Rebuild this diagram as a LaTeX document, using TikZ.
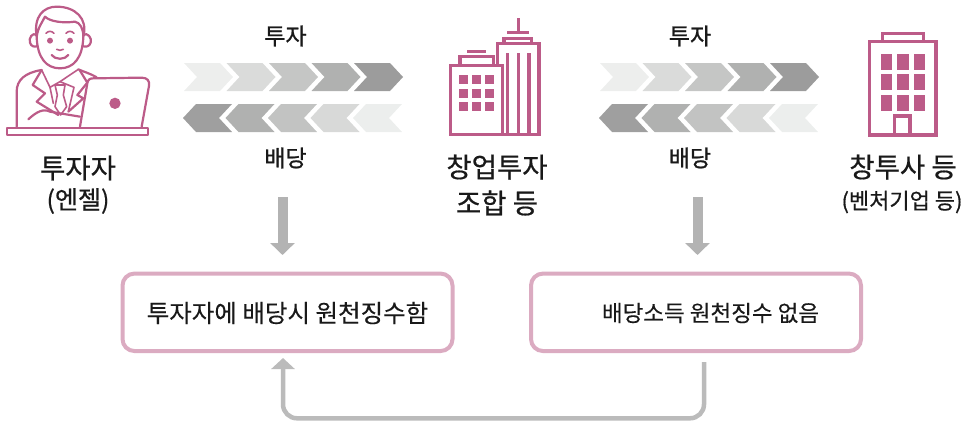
\documentclass[tikz,border=0pt]{standalone}
\usepackage{fontspec}
\setmainfont{Noto Sans CJK KR}
\newfontfamily\labelfont[FakeBold=0.6]{Noto Sans CJK KR}
\newfontfamily\flowfont[FakeBold=1]{Noto Sans CJK KR}
\newfontfamily\boxfont[FakeBold=0.2]{Noto Sans CJK KR}
\usetikzlibrary{arrows.meta}
\definecolor{iconpink}{HTML}{BC5B88}
\definecolor{boxpink}{HTML}{DBABC1}
\definecolor{flowgray}{HTML}{B3B3B3}
\definecolor{backgray}{HTML}{BBBBBB}
\tikzset{
    >=latex,
    icon/.style={draw=iconpink, line width=2.2pt, line join=round, line cap=round},
    iconthin/.style={draw=iconpink, line width=1.6pt, line join=round, line cap=round},
    iconthick/.style={draw=iconpink, line width=3.2pt},
    pane/.style={fill=iconpink},
    namelabel/.style={font=\labelfont\fontsize{27.5}{27.5}\selectfont, text=black!90, inner sep=0pt},
    sublabel/.style={font=\labelfont\fontsize{25}{25}\selectfont, text=black!90, inner sep=0pt},
    venturelabel/.style={font=\labelfont\fontsize{22}{22}\selectfont, text=black!90, inner sep=0pt},
    flowlabel/.style={font=\flowfont\fontsize{23}{23}\selectfont, text=black!90, inner sep=0pt},
    boxlabel/.style={font=\boxfont\fontsize{24.5}{24.5}\selectfont, text=black!90, inner sep=0pt},
    taxbox/.style={draw=boxpink, line width=4pt, rounded corners=12pt, minimum width=330pt, minimum height=77.5pt, inner sep=0pt},
    downflow/.style={draw=flowgray, line width=10pt, -{Triangle[width=24pt,length=12pt]}},
}
\begin{document}
\begin{tikzpicture}[x=1pt,y=-1pt]
    \useasboundingbox (0,0) rectangle (966,421);

    % Investor at the laptop
    \begin{scope}[x=0.3333pt,y=-0.3333pt]
        \draw[icon] (110,110) .. controls (112,175) and (140,205) .. (180,205) .. controls (220,205) and (248,175) .. (250,110);
        \draw[icon] (110,105) .. controls (98,95) and (85,115) .. (90,128) .. controls (93,140) and (105,142) .. (113,138);
        \draw[icon] (250,105) .. controls (262,95) and (277,115) .. (272,128) .. controls (269,140) and (257,142) .. (247,138);
        \draw[icon] (110,110) .. controls (100,50) and (130,20) .. (170,20) .. controls (225,20) and (265,55) .. (250,110) .. controls (250,85) and (240,68) .. (225,65) .. controls (190,70) and (150,65) .. (135,50) .. controls (125,70) and (115,80) .. (110,110);
        \fill[iconpink] (150,122) circle (9);
        \fill[iconpink] (210,122) circle (9);
        \draw[iconthin] (138,100) .. controls (145,92) and (155,92) .. (162,100);
        \draw[iconthin] (198,100) .. controls (205,92) and (215,92) .. (222,100);
        \draw[iconthin] (170,148) .. controls (175,152) and (185,152) .. (190,148);
        \draw[icon] (155,165) .. controls (165,180) and (195,180) .. (205,165);
        % Jacket and collar
        \draw[icon] (50,380) -- (50,275) .. controls (50,240) and (75,218) .. (125,210);
        \draw[icon] (235,208) .. controls (250,215) and (270,220) .. (290,232);
        \draw[icon] (125,210) -- (98,255) -- (135,280) -- (110,305) -- (175,345);
        \draw[icon] (240,212) -- (262,248) -- (232,285) -- (250,295) -- (205,335);
        \draw[iconthin] (125,210) -- (150,262) -- (180,245) -- (235,208);
        \draw[iconthin] (150,262) -- (160,310);
        \draw[iconthin] (180,245) -- (222,262) -- (205,335);
        \draw[iconthin] (165,255) -- (195,255) -- (190,285) -- (200,320) -- (182,345) -- (165,320) -- (172,285) -- cycle;
        \draw[icon] (85,358) .. controls (110,335) and (130,325) .. (150,335) -- (240,350);
        % Laptop and desk
        \draw[icon, fill=white] (240,380) -- (262,250) .. controls (264,238) and (270,235) .. (280,235) -- (425,233) .. controls (442,233) and (450,243) .. (447,258) -- (425,380);
        \fill[iconpink] (345,310) circle (17);
        \draw[icon] (20,384) rectangle (443,404);
    \end{scope}

    % Fund building with tower
    \begin{scope}[shift={(430,0)},x=0.3333pt,y=-0.3333pt]
        \draw[iconthick] (62,197) rectangle (218,403);
        \draw[iconthick] (90,197) -- (90,170) -- (190,170) -- (190,197);
        \draw[iconthick] (112,155) -- (168,155);
        \foreach \wx in {87,127,166} {
            \foreach \wy in {226,267,307} {
                \fill[pane] (\wx,\wy) rectangle ++(27,26);
            }
        }
        \draw[iconthick] (203,197) -- (203,130) -- (327,130) -- (327,403) -- (218,403);
        \foreach \lx in {232,265,297} {
            \draw[iconthick] (\lx,160) -- (\lx,403);
        }
        \draw[iconthick] (222,130) -- (222,115) -- (305,115) -- (305,130);
        \draw[iconthick] (232,98) -- (298,98);
        \draw[iconthick] (265,55) -- (265,98);
    \end{scope}

    % Venture company building
    \begin{scope}[shift={(810,10)},x=0.3333pt,y=-0.3333pt]
        \draw[iconthick] (178,95) rectangle (378,375);
        \draw[iconthick] (217,95) -- (217,70) -- (340,70) -- (340,95);
        \foreach \wx in {212,261,311} {
            \foreach \wy in {132,193,255} {
                \fill[pane] (\wx,\wy) rectangle ++(35,48);
            }
        }
        \draw[iconthick] (253,375) -- (253,318) -- (300,318) -- (300,375);
    \end{scope}

    % Chevron bands
    \foreach \bx in {0,416} {
        \foreach \i/\shade in {0/EDEEED,1/DADBDA,2/C5C6C5,3/B0B1B0,4/9C9C9C} {
            \definecolor{cshade}{HTML}{\shade}
            \fill[cshade] (184+\bx+42.5*\i,63) -- ++(36,0) -- ++(13,14) -- ++(-13,14) -- ++(-36,0) -- ++(13,-14) -- cycle;
        }
        \foreach \i/\shade in {0/9F9F9F,1/B0B1B0,2/C2C3C2,3/D8D9D8,4/ECEEED} {
            \definecolor{cshade}{HTML}{\shade}
            \fill[cshade] (183+\bx+42.5*\i,118) -- ++(13,-14) -- ++(36,0) -- ++(-13,14) -- ++(13,14) -- ++(-36,0) -- cycle;
        }
    }

    % Labels
    \node[namelabel] (investor) at (78,168) {투자자};
    \node[sublabel] (angel) at (78,201) {(엔젤)};
    \node[namelabel] (fund) at (497,167) {창업투자};
    \node[namelabel] (fundtwo) at (497,203) {조합 등};
    \node[namelabel] (company) at (903,167) {창투사 등};
    \node[venturelabel] (venture) at (902,202) {(벤처기업 등)};
    \node[flowlabel] (investa) at (285.5,36) {투자};
    \node[flowlabel] (paya) at (285.5,158) {배당};
    \node[flowlabel] (investb) at (690,36) {투자};
    \node[flowlabel] (payb) at (690,158) {배당};

    % Tax boxes
    \node[taxbox] (boxleft) at (287.5,312.3) {};
    \node[taxbox] (boxright) at (696,312.3) {};
    \node[boxlabel] (textleft) at (287.5,313) {투자자에 배당시 원천징수함};
    \node[boxlabel, font=\boxfont\fontsize{22.5}{22.5}\selectfont] (textright) at (710.5,313) {배당소득 원천징수 없음};

    % Arrows
    \coordinate (downa) at (282.5,197);
    \coordinate (downb) at (697.5,197);
    \coordinate (enda) at (282.5,255);
    \coordinate (endb) at (697.5,255);
    \draw[downflow] (downa) -- (enda);
    \draw[downflow] (downb) -- (endb);
    \coordinate (backstart) at (704,362);
    \coordinate (backend) at (283,358);
    \draw[draw=backgray, line width=4.5pt, rounded corners=14pt, -{Triangle[width=23pt,length=11pt]}] (backstart) -- (704,418.3) -- (283,418.3) -- (backend);
\end{tikzpicture}
\end{document}
